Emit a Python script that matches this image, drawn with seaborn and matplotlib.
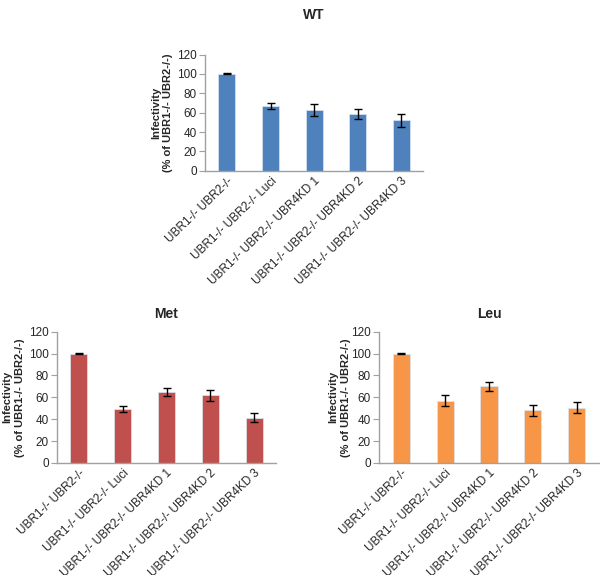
import numpy as np
import pandas as pd
import seaborn as sns
from matplotlib import pyplot as plt

sns.set_style("white")
plt.rcParams['font.family'] = ['Liberation Sans', 'DejaVu Sans']

categories = ["UBR1-/- UBR2-/-", "UBR1-/- UBR2-/- Luci", "UBR1-/- UBR2-/- UBR4KD 1",
              "UBR1-/- UBR2-/- UBR4KD 2", "UBR1-/- UBR2-/- UBR4KD 3"]

wt_vals = [100, 67, 63, 59, 52]
wt_err = [0.5, 3.5, 6, 5, 6.5]
met_vals = [100, 49.5, 65, 62, 41.5]
met_err = [0.5, 3, 3.5, 5, 4.5]
leu_vals = [100, 57, 70, 48, 50.5]
leu_err = [0.5, 5, 4, 5, 5]

panels = [
    ("WT", wt_vals, wt_err, "#4F81BD", [0.342, 0.703, 0.363, 0.202], 0.986, -0.147),
    ("Met", met_vals, met_err, "#C0504D", [0.095, 0.195, 0.365, 0.228], 0.466, -0.146),
    ("Leu", leu_vals, leu_err, "#F79646", [0.632, 0.195, 0.366, 0.228], 0.466, -0.13),
]

fig = plt.figure(figsize=(6, 5.75), dpi=100)

for name, vals, errs, color, pos, ty, lx in panels:
    ax = fig.add_axes(pos)
    df = pd.DataFrame({"cat": categories, "val": vals})
    sns.barplot(data=df, x="cat", y="val", color=color, width=0.39,
                saturation=1, edgecolor="#DCE6F2", linewidth=0.5, ax=ax)
    ax.errorbar(np.arange(len(vals)), vals, yerr=errs, fmt="none",
                ecolor="black", elinewidth=1, capsize=3, capthick=1)
    ax.set_ylim(0, 120)
    ax.set_yticks(range(0, 121, 20))
    ax.set_xlim(-0.5, 4.5)
    ax.set_xlabel("")
    ax.set_ylabel("Infectivity\n(% of UBR1-/- UBR2-/-)", fontsize=8,
                  fontweight="bold", linespacing=1.3)
    ax.yaxis.set_label_coords(lx, 0.5)
    for s in ["top", "right"]:
        ax.spines[s].set_visible(False)
    for s in ["left", "bottom"]:
        ax.spines[s].set_color("#A0A0A0")
        ax.spines[s].set_linewidth(1)
    ax.tick_params(axis="y", labelsize=8.5, length=4, color="#A0A0A0", pad=2, left=True)
    ax.tick_params(axis="x", labelsize=8.5, length=0, pad=3)
    ax.set_xticks(range(len(categories)))
    ax.set_xticklabels(categories, rotation=44, ha="right", rotation_mode="anchor")
    bbox = ax.get_position()
    fig.text(bbox.x0 + bbox.width / 2, ty, name, ha="center", va="top",
             fontsize=10, fontweight="bold")

fig.savefig("out.png", dpi=100)
